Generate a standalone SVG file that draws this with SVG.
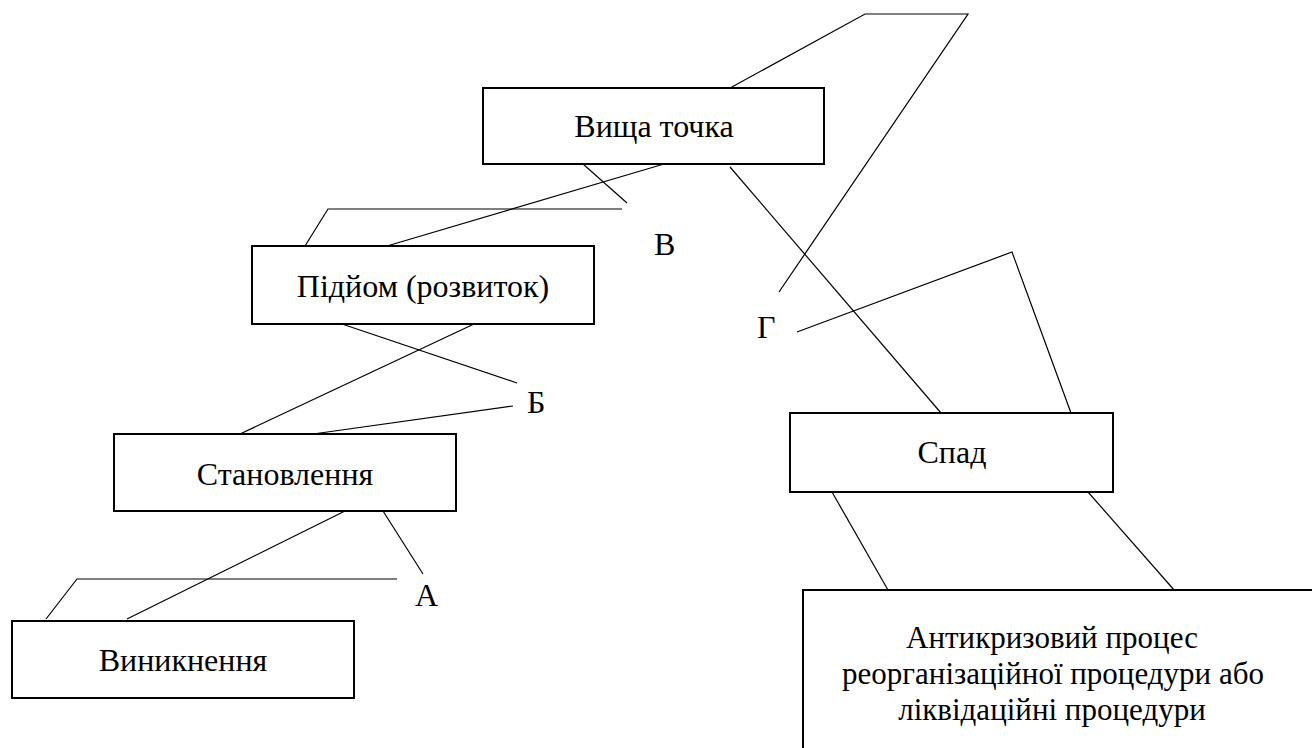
<svg xmlns="http://www.w3.org/2000/svg" width="1312" height="748" viewBox="0 0 1312 748">
  <style>
    .box { fill: #ffffff; stroke: #000000; stroke-width: 2; }
    .link { fill: none; stroke: #000000; stroke-width: 1.2; }
    .label { font-family: "Liberation Serif", "Times New Roman", serif; font-size: 32px; fill: #000000; }
    .small { font-size: 31px; }
    .mid { text-anchor: middle; }
  </style>
  <rect width="1312" height="748" fill="#ffffff"/>

  <!-- connectors between the stages -->
  <g id="connectors">
    <!-- Виникнення -> Становлення (A) -->
    <polyline class="link" points="46,619 77,579 397,579"/>
    <line class="link" x1="127" y1="619" x2="345" y2="511"/>
    <line class="link" x1="383" y1="511" x2="423" y2="574"/>
    <!-- Становлення -> Підйом (Б) -->
    <line class="link" x1="240" y1="434" x2="474" y2="324"/>
    <line class="link" x1="313" y1="434" x2="513" y2="406"/>
    <line class="link" x1="342" y1="324" x2="517" y2="383"/>
    <!-- Підйом -> Вища точка (В) -->
    <polyline class="link" points="305,246 328,209 622,209"/>
    <line class="link" x1="387" y1="246" x2="664" y2="164"/>
    <line class="link" x1="583" y1="164" x2="627" y2="203"/>
    <!-- Вища точка -> Спад (Г) -->
    <polyline class="link" points="730,88 865,14 968,14 779,292"/>
    <line class="link" x1="730" y1="167" x2="941" y2="413"/>
    <polyline class="link" points="797,332 1012,252 1071,413"/>
    <!-- Спад -> final stage -->
    <line class="link" x1="832" y1="492" x2="888" y2="590"/>
    <line class="link" x1="1088" y1="492" x2="1175" y2="591"/>
  </g>

  <g id="node-vynyknennia">
    <rect class="box" x="12" y="621" width="342" height="77"/>
    <text class="label mid" x="183" y="671">Виникнення</text>
  </g>

  <g id="node-stanovlennia">
    <rect class="box" x="114" y="434" width="342" height="77"/>
    <text class="label mid" x="285" y="485">Становлення</text>
  </g>

  <g id="node-pidyom">
    <rect class="box" x="252" y="246" width="342" height="78"/>
    <text class="label mid" x="423" y="297">Підйом (розвиток)</text>
  </g>

  <g id="node-vyshcha-tochka">
    <rect class="box" x="483" y="88" width="341" height="76"/>
    <text class="label mid" x="654" y="137">Вища точка</text>
  </g>

  <g id="node-spad">
    <rect class="box" x="790" y="413" width="323" height="79"/>
    <text class="label mid" x="952" y="463">Спад</text>
  </g>

  <g id="node-antykryzovyi">
    <rect class="box" x="803" y="590" width="530" height="180"/>
    <text class="label small mid" x="1052" y="648">Антикризовий процес</text>
    <text class="label small mid" x="1053" y="684">реорганізаційної процедури або</text>
    <text class="label small mid" x="1052" y="720">ліквідаційні процедури</text>
  </g>

  <g id="stage-labels">
    <text class="label" x="415" y="606">А</text>
    <text class="label" x="527" y="413">Б</text>
    <text class="label" x="654" y="255">В</text>
    <text class="label" x="757" y="338">Г</text>
  </g>
</svg>
